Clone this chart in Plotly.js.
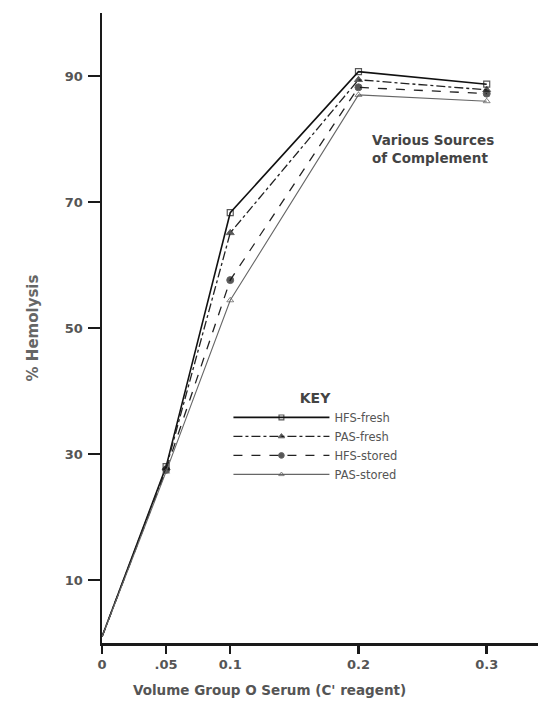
<!DOCTYPE html>
<html>
<head>
<meta charset="utf-8">
<script src="https://cdn.plot.ly/plotly-3.0.1.min.js"></script>
<style>html,body{margin:0;padding:0;background:#fff;}#chart{width:538px;height:717px;}</style>
</head>
<body>
<div id="chart"></div>
<script>
const volumes = [0, 0.05, 0.1, 0.2, 0.3];
const hfsFresh = [1, 28.0, 68.3, 90.7, 88.7];
const pasFresh = [1, 27.8, 65.1, 89.4, 87.8];
const hfsStored = [1, 27.5, 57.6, 88.2, 87.2];
const pasStored = [1, 27.2, 54.4, 87.0, 86.0];
const seriesNames = ['HFS-fresh', 'PAS-fresh', 'HFS-stored', 'PAS-stored'];
const xTickVals = [0, 0.05, 0.1, 0.2, 0.3];
const xTickText = ['0', '.05', '0.1', '0.2', '0.3'];
const yTickVals = [10, 30, 50, 70, 90];

const ink = '#1a1a1a';
const sizes = s => volumes.map((v, i) => i === 0 ? 0 : s);
const traces = [
  {x: volumes, y: hfsFresh, name: seriesNames[0], mode: 'lines+markers',
   line: {color: '#111', width: 1.6, dash: 'solid'},
   marker: {symbol: 'square-open', size: sizes(6), color: '#111', line: {width: 1.2}}},
  {x: volumes, y: pasFresh, name: seriesNames[1], mode: 'lines+markers',
   line: {color: '#222', width: 1.3, dash: 'dashdot'},
   marker: {symbol: 'triangle-up', size: sizes(7), color: '#111'}},
  {x: volumes, y: hfsStored, name: seriesNames[2], mode: 'lines+markers',
   line: {color: '#222', width: 1.3, dash: 'dash'},
   marker: {symbol: 'circle', size: sizes(7), color: '#111'}},
  {x: volumes, y: pasStored, name: seriesNames[3], mode: 'lines+markers',
   line: {color: '#666', width: 1.1, dash: 'solid'},
   marker: {symbol: 'triangle-up-open', size: sizes(6), color: '#555', line: {width: 1}}}
];

const tickFont = {size: 13, color: '#555', family: 'DejaVu Sans, sans-serif', weight: 'bold'};
const layout = {
  width: 538, height: 717,
  margin: {l: 102, r: 0, t: 13, b: 74},
  paper_bgcolor: '#fff', plot_bgcolor: '#fff',
  font: {family: 'DejaVu Sans, sans-serif', color: '#555'},
  showlegend: true,
  legend: {
    x: 0.29, y: 0.41, xanchor: 'left', yanchor: 'top',
    bgcolor: 'rgba(0,0,0,0)', borderwidth: 0,
    itemwidth: 96, tracegroupgap: 0,
    font: {size: 11.5, color: '#555', family: 'DejaVu Sans, sans-serif'},
    title: {text: '<b>KEY</b>', side: 'top center', font: {size: 14, color: '#444', family: 'DejaVu Sans, sans-serif'}}
  },
  xaxis: {
    range: [0, 0.34], tickmode: 'array', tickvals: xTickVals, ticktext: xTickText,
    showgrid: false, zeroline: false, showline: true, linecolor: ink, linewidth: 2.5,
    ticks: 'outside', ticklen: 8, tickwidth: 2.5, tickcolor: ink,
    tickfont: tickFont
  },
  yaxis: {
    range: [0, 100], tickmode: 'array', tickvals: yTickVals,
    showgrid: false, zeroline: false, showline: true, linecolor: ink, linewidth: 2.5,
    ticks: 'outside', ticklen: 12, tickwidth: 2.5, tickcolor: ink,
    ticklabelstandoff: 2,
    tickfont: tickFont,
    title: {text: '% Hemolysis', font: {size: 15, color: '#666', family: 'DejaVu Sans, sans-serif', weight: 'bold'}, standoff: 23}
  },
  annotations: [
    {xref: 'paper', yref: 'paper', x: 0.615, y: 0.815, xanchor: 'left', yanchor: 'top',
     align: 'left', showarrow: false,
     text: '<b>Various Sources<br>of Complement</b>',
     font: {size: 13.5, color: '#444', family: 'DejaVu Sans, sans-serif'}},
    {xref: 'paper', yref: 'paper', x: 0.385, y: -0.075, xanchor: 'center', yanchor: 'middle',
     showarrow: false,
     text: '<b>Volume Group O Serum (C\' reagent)</b>',
     font: {size: 13.5, color: '#555', family: 'DejaVu Sans, sans-serif'}}
  ]
};

Plotly.newPlot('chart', traces, layout, {displayModeBar: false, staticPlot: true});
</script>
</body>
</html>
